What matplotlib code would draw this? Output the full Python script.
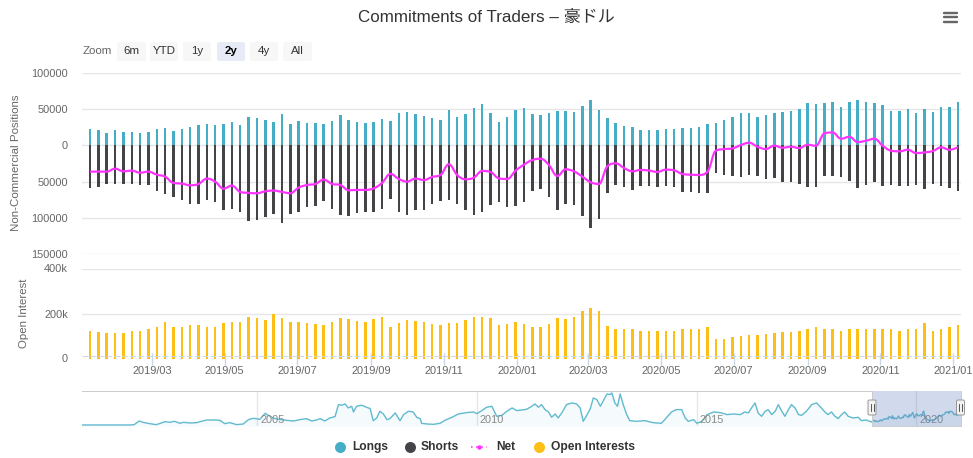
import numpy as np
import pandas as pd
import matplotlib
matplotlib.use("Agg")
import matplotlib.pyplot as plt
import matplotlib.dates as mdates
from matplotlib.path import Path
from matplotlib.patches import PathPatch, FancyBboxPatch, Rectangle
from matplotlib.lines import Line2D

# ---------------- data ----------------
longs = [22000, 20700, 16500, 20700, 17900, 17900, 16500, 17900, 22000, 24300, 19300, 22000, 25700, 27500, 28900,
         27500, 28900, 31700, 27500, 38600, 37200, 35300, 31700, 42700, 28900, 34000, 30300, 30300, 28900, 34000,
         41300, 35300, 31700, 30300, 33000,
         36300, 34000, 45400, 46800, 42700, 40800, 37200, 35300, 48700, 39900, 42700, 51000, 56500, 45400, 33000,
         38600, 48700, 51000, 42700, 41300, 44100, 47300, 47300, 46300, 55100, 63300, 48700, 37200, 30300, 26200,
         25200, 21600, 20700, 20700, 23000,
         23000, 24300, 24300, 25200, 28900, 30300, 35300, 38600, 44100, 44100, 39900, 41300, 44100, 46800, 48200,
         50000, 58300, 56900, 59200, 60600, 52800, 60600, 62900, 60600, 59200, 55500, 47800, 47800, 50000, 44500,
         50000, 45900, 52800, 52800, 59700]
shorts = [58300, 56900, 52800, 52800, 53700, 52800, 54200, 54200, 62400, 67500, 71200, 74800, 80800, 80800, 74800,
          77600, 88600, 87200, 91800, 104200, 103300, 98700, 94100, 107000, 95000, 92300, 85000, 83600, 76200, 87200,
          96000, 97300, 93200, 91800, 92300,
          88100, 73400, 91800, 96800, 88600, 88600, 80800, 76200, 74800, 80800, 89500, 95500, 91800, 82200, 78500,
          85000, 83600, 77600, 62900, 59700, 71200, 89500, 80300, 82200, 98200, 114300, 101900, 66100, 55100, 57400,
          61000, 55500, 55500, 57400, 56500,
          57400, 63800, 64700, 66100, 65200, 37600, 40400, 42700, 43600, 40400, 41800, 46300, 44500, 50000, 50000,
          53700, 57400, 57400, 42700, 42700, 43600, 48700, 58300, 54200, 50000, 56000, 55100, 56000, 56000, 55100,
          59700, 53700, 55500, 58800, 62400]
open_interest = [124000, 120000, 115000, 115000, 115000, 124000, 124000, 129000, 138000, 161000,
                 142000, 138000, 147000, 147000, 138000, 142000, 156000, 161000, 161000, 183000,
                 179000, 170000, 197000, 179000, 161000, 161000, 156000, 152000, 148000, 161000,
                 179000, 174000, 165000, 161000, 174000, 183000, 138000, 156000, 170000, 165000,
                 161000, 152000, 148000, 156000, 156000, 170000, 183000, 183000, 179000, 147000,
                 152000, 161000, 152000,
                 142000, 138000, 152000, 179000, 174000, 186000, 211000, 224000, 211000, 145000,
                 133000, 129000, 129000, 124000, 124000, 124000, 124000, 124000, 129000, 133000,
                 133000, 138000, 88000, 88000, 97000, 102000, 106000, 106000, 108000, 115000,
                 120000, 120000, 124000, 133000, 142000, 129000, 129000, 124000, 129000, 133000,
                 133000, 129000, 133000, 129000, 124000, 129000, 129000, 156000, 124000, 133000,
                 138000, 147000]
first_date = "2019-01-08"

# navigator history of longs (thousands) before 2019, by decimal year
nav_years = [2001.00, 2002.10, 2002.20, 2002.31, 2002.40, 2002.55, 2002.70, 2002.82, 2002.90, 2003.01, 2003.12,
             2003.24, 2003.32, 2003.47, 2003.62, 2003.73, 2003.85, 2004.00, 2004.15, 2004.26, 2004.38, 2004.53,
             2004.68, 2004.80, 2004.91, 2005.06, 2005.18, 2005.25, 2005.36, 2005.52, 2005.67, 2005.82, 2005.97,
             2006.12, 2006.24, 2006.35, 2006.43, 2006.54, 2006.65, 2006.77, 2006.85, 2006.92, 2007.00, 2007.07,
             2007.15, 2007.19, 2007.26, 2007.38, 2007.49, 2007.57, 2007.64, 2007.72, 2007.79, 2007.87, 2007.95,
             2008.02, 2008.14, 2008.25, 2008.33, 2008.44, 2008.55, 2008.63, 2008.71, 2008.74, 2008.86, 2009.01,
             2009.16, 2009.27, 2009.43, 2009.58, 2009.77, 2009.92, 2010.00, 2010.11, 2010.22, 2010.34, 2010.45,
             2010.57, 2010.68, 2010.80, 2010.91, 2011.02, 2011.13, 2011.25, 2011.32, 2011.40, 2011.47, 2011.55,
             2011.63, 2011.70, 2011.78, 2011.85, 2011.93, 2012.04, 2012.16, 2012.27, 2012.35, 2012.42, 2012.50,
             2012.58, 2012.65, 2012.73, 2012.81, 2012.88, 2012.96, 2013.03, 2013.07, 2013.14, 2013.20, 2013.26,
             2013.33, 2013.41, 2013.48, 2013.63, 2013.82, 2014.01, 2014.20, 2014.32, 2014.43, 2014.54, 2014.66,
             2014.74, 2014.81, 2014.93, 2015.01, 2015.12, 2015.24, 2015.39, 2015.54, 2015.69, 2015.84, 2015.99,
             2016.10, 2016.18, 2016.25, 2016.33, 2016.40, 2016.48, 2016.56, 2016.63, 2016.71, 2016.79, 2016.86,
             2016.94, 2017.01, 2017.09, 2017.16, 2017.24, 2017.32, 2017.39, 2017.50, 2017.62, 2017.73, 2017.84,
             2017.92, 2017.99, 2018.07, 2018.15, 2018.22, 2018.30, 2018.37, 2018.45, 2018.56, 2018.68, 2018.75,
             2018.86, 2018.98]
nav_longs_k = [1.5, 1.5, 3.0, 19.2, 13.3, 7.4, 3.0, 10.4, 16.3, 13.3, 17.8,
               8.9, 13.3, 10.4, 11.8, 17.8, 23.7, 23.7, 22.2, 7.4, 11.8, 3.0,
               5.9, 25.2, 31.1, 26.6, 53.3, 44.4, 32.6, 25.2, 22.2, 19.2, 25.2,
               29.6, 19.2, 23.7, 29.6, 19.2, 32.6, 38.5, 91.8, 88.8, 94.7, 77.0,
               84.4, 59.2, 84.4, 88.8, 79.9, 74.0, 20.7, 32.6, 62.2, 50.3, 25.2,
               29.6, 54.8, 20.7, 47.4, 62.2, 59.2, 35.5, 29.6, 8.9, 5.9, 4.4,
               8.9, 22.2, 35.5, 50.3, 56.2, 59.2, 51.8, 65.1, 79.9, 84.4, 40.0,
               44.4, 62.2, 77.0, 65.1, 68.1, 71.0, 84.4, 94.7, 79.9, 91.8, 69.6,
               59.2, 35.5, 50.3, 32.6, 54.8, 91.8, 99.2, 94.7, 77.0, 17.8, 44.4,
               74.0, 121.4, 114.0, 84.4, 109.5, 139.1, 136.2, 143.6, 99.2, 84.4, 139.1,
               91.8, 47.4, 20.7, 17.8, 20.7, 11.8, 8.9, 35.5, 59.2, 69.6, 69.6,
               32.6, 17.8, 25.2, 8.9, 17.8, 47.4, 59.2, 56.2, 47.4, 50.3, 47.4,
               59.2, 54.8, 77.0, 99.2, 54.8, 40.0, 62.2, 69.6, 47.4, 62.2, 91.8,
               62.2, 40.0, 69.6, 91.8, 77.0, 47.4, 44.4, 62.2, 91.8, 99.2, 77.0,
               59.2, 47.4, 59.2, 40.0, 29.6, 47.4, 59.2, 40.0, 32.6, 35.5, 20.7,
               23.7, 14.8]

top_ticks = [-150000, -100000, -50000, 0, 50000, 100000]
top_labels = ["150000", "100000", "50000", "0", "50000", "100000"]
oi_ticks = [0, 200000, 400000]
oi_labels = ["0", "200k", "400k"]
nav_tick_years = [2005, 2010, 2015, 2020]
zoom_buttons = ["6m", "YTD", "1y", "2y", "4y", "All"]
legend_names = ["Longs", "Shorts", "Net", "Open Interests"]

# ---------------- style ----------------
C_LONG = "#45aec6"
C_SHORT = "#434348"
C_NET = "#ff33ff"
C_OI = "#fdbf16"
C_GRID = "#e6e6e6"
C_LBL = "#666666"
FONT = ["Liberation Sans", "DejaVu Sans", "Noto Sans CJK JP"]
plt.rcParams["font.family"] = FONT

W, H, DPI = 973, 458, 100
PT = 0.72  # px -> pt


def fr(x0, y0, x1, y1):
    return [x0 / W, 1 - y1 / H, (x1 - x0) / W, (y1 - y0) / H]


def hc_spline_path(x, y, smoothing=1.5):
    n = len(x)
    denom = smoothing + 1
    lcx = np.array(x, float); lcy = np.array(y, float)
    rcx = np.array(x, float); rcy = np.array(y, float)
    for i in range(1, n - 1):
        px, py = x[i], y[i]
        lx, ly = x[i - 1], y[i - 1]
        nx, ny = x[i + 1], y[i + 1]
        a = (smoothing * px + lx) / denom
        b = (smoothing * py + ly) / denom
        c = (smoothing * px + nx) / denom
        d = (smoothing * py + ny) / denom
        corr = 0.0
        if c != a:
            corr = (d - b) * (c - px) / (c - a) + py - d
        b += corr
        d += corr
        if b > ly and b > py:
            b = max(ly, py); d = 2 * py - b
        elif b < ly and b < py:
            b = min(ly, py); d = 2 * py - b
        if d > ny and d > py:
            d = max(ny, py); b = 2 * py - d
        elif d < ny and d < py:
            d = min(ny, py); b = 2 * py - d
        lcx[i], lcy[i], rcx[i], rcy[i] = a, b, c, d
    verts = [(x[0], y[0])]
    codes = [Path.MOVETO]
    for i in range(1, n):
        verts += [(rcx[i - 1], rcy[i - 1]), (lcx[i], lcy[i]), (x[i], y[i])]
        codes += [Path.CURVE4] * 3
    return Path(verts, codes)


dates = pd.date_range(first_date, periods=len(longs), freq="7D")
xd = mdates.date2num(dates)
longs_a = np.array(longs, float)
shorts_a = np.array(shorts, float)
net = longs_a - shorts_a
oi = np.array(open_interest, float)

x_lo = mdates.date2num(pd.Timestamp("2019-01-01 06:00"))
x_hi = mdates.date2num(pd.Timestamp("2021-01-07 16:00"))
bw = 2.1  # days

fig = plt.figure(figsize=(W / DPI, H / DPI), dpi=DPI)
fig.patch.set_facecolor("white")

# ---- top pane ----
ax1 = fig.add_axes(fr(82, 73, 961, 254))
ax1.set_xlim(x_lo, x_hi)
ax1.set_ylim(-150000, 100000)
ax1.bar(xd, longs_a, width=bw, color=C_LONG, zorder=3, linewidth=0)
ax1.bar(xd, -shorts_a, width=bw, color=C_SHORT, zorder=3, linewidth=0)
ax1.add_patch(PathPatch(hc_spline_path(xd, -(-net)), facecolor="none", edgecolor=C_NET, lw=1.6, zorder=4))
ax1.set_yticks(top_ticks)
ax1.set_yticklabels(top_labels)
ax1.set_xticks([])
ax1.grid(axis="y", color=C_GRID, lw=1)
ax1.set_axisbelow(True)
for s in ax1.spines.values():
    s.set_visible(False)
ax1.tick_params(axis="y", length=0, pad=14 * PT, labelsize=11 * PT, labelcolor=C_LBL)
ax1.patch.set_alpha(0)

# ---- bottom pane ----
ax2 = fig.add_axes(fr(82, 268.5, 961, 358.5))
ax2.set_xlim(x_lo, x_hi)
ax2.set_ylim(0, 400000)
ax2.bar(xd, oi, width=bw, color=C_OI, zorder=3, linewidth=0)
ax2.set_yticks(oi_ticks)
ax2.set_yticklabels(oi_labels)
ax2.grid(axis="y", color=C_GRID, lw=1)
ax2.set_axisbelow(True)
for s in ax2.spines.values():
    s.set_visible(False)
ax2.tick_params(axis="y", length=0, pad=14 * PT, labelsize=11 * PT, labelcolor=C_LBL)
ax2.xaxis.set_major_locator(mdates.MonthLocator(bymonth=[1, 3, 5, 7, 9, 11]))
ax2.xaxis.set_major_formatter(mdates.DateFormatter("%Y/%m"))
ax2.tick_params(axis="x", direction="inout", length=8, width=1, color="#ccd6eb",
                pad=1.5, labelsize=11 * PT, labelcolor=C_LBL)
ax2.patch.set_alpha(0)

# ---- navigator ----
axn = fig.add_axes(fr(82, 391, 961, 426))
nav_hist_dates = pd.to_datetime("2001-01-01") + pd.to_timedelta((np.array(nav_years) - 2001) * 365.25, unit="D")
nav_x = np.concatenate([mdates.date2num(nav_hist_dates), xd])
nav_y = np.concatenate([np.array(nav_longs_k) * 1000, longs_a])
n_lo = mdates.date2num(pd.Timestamp("2001-01-05"))
axn.set_xlim(n_lo, x_hi)
axn.set_ylim(-3000, 152000)
axn.fill_between(nav_x, -3000, nav_y, color=C_LONG, alpha=0.05, lw=0)
axn.plot(nav_x, nav_y, color=C_LONG, lw=1, alpha=0.85)
for yr in nav_tick_years:
    xv = mdates.date2num(pd.Timestamp(f"{yr}-01-01"))
    axn.axvline(xv, color=C_GRID, lw=1, zorder=0)
    axn.annotate(str(yr), xy=(xv, 0.17), xycoords=("data", "axes fraction"), xytext=(3 * PT, 0),
                 textcoords="offset points", ha="left", va="center", fontsize=11 * PT, color="#888888")
axn.add_patch(Rectangle((x_lo, 0), x_hi - x_lo, 1, transform=axn.get_xaxis_transform(),
                        facecolor=(0.4, 0.52, 0.76), alpha=0.3, lw=0, zorder=5))
axn.set_xticks([]); axn.set_yticks([])
for s in axn.spines.values():
    s.set_visible(False)
axn.patch.set_alpha(0)

# ---- overlay in pixel coordinates ----
ov = fig.add_axes([0, 0, 1, 1])
ov.set_xlim(0, W); ov.set_ylim(H, 0)
ov.axis("off")
ov.patch.set_alpha(0)

ov.text(486, 17, "Commitments of Traders – 豪ドル", ha="center", va="center",
        fontsize=17 * PT, color="#333333")
for yy in (12.5, 17, 21.5):
    ov.add_line(Line2D([944, 957], [yy, yy], color="#666666", lw=2.4 * PT, solid_capstyle="round"))

ov.text(83, 51.5, "Zoom", ha="left", va="center", fontsize=11.5 * PT, color="#666666")
btn_x = [(117, 146), (150, 178), (183, 211), (217, 245), (250, 278), (283, 312)]
for (bx0, bx1), lab in zip(btn_x, zoom_buttons):
    sel = lab == "2y"
    ov.add_patch(FancyBboxPatch((bx0, 42), bx1 - bx0, 19, boxstyle="round,pad=0,rounding_size=2",
                                facecolor="#e6ebf5" if sel else "#f7f7f7", edgecolor="none"))
    ov.text((bx0 + bx1) / 2, 51.5, lab, ha="center", va="center", fontsize=11.5 * PT,
            color="#000000" if sel else "#333333", fontweight="bold" if sel else "normal")

ov.text(16, 163, "Non-Commercial Positions", rotation=90, ha="center", va="center",
        fontsize=11.5 * PT, color=C_LBL)
ov.text(24, 313, "Open Interest", rotation=90, ha="center", va="center",
        fontsize=11.5 * PT, color=C_LBL)

# dashed line above bottom axis
ov.add_line(Line2D([82, 961], [355.5, 355.5], color="#ccd6eb", lw=1 * PT, linestyle=(0, (6, 2))))

# navigator outline and handles
mask_l, mask_r = 872, 961
ov.add_line(Line2D([82, mask_l, mask_l, mask_r, mask_r], [391, 391, 426, 426, 391],
                   color="#cccccc", lw=1 * PT))
for hx in (mask_l, mask_r - 0.5):
    ov.add_patch(FancyBboxPatch((hx - 4, 400), 8, 15, boxstyle="round,pad=0,rounding_size=1.5",
                                facecolor="#f2f2f2", edgecolor="#999999", lw=1 * PT, zorder=6))
    for dx in (-1.5, 1.5):
        ov.add_line(Line2D([hx + dx, hx + dx], [404, 411], color="#333333", lw=0.8 * PT, zorder=7))

# legend
leg_y = 447
ov.plot([340], [leg_y], marker="o", ms=11 * PT, color=C_LONG, mec="none")
ov.text(352, leg_y, legend_names[0], ha="left", va="center", fontsize=12 * PT, fontweight="bold", color="#333333")
ov.plot([410], [leg_y], marker="o", ms=11 * PT, color=C_SHORT, mec="none")
ov.text(421, leg_y, legend_names[1], ha="left", va="center", fontsize=12 * PT, fontweight="bold", color="#333333")
ov.add_line(Line2D([471, 487], [leg_y, leg_y], color=C_NET, lw=1.6 * PT, linestyle=(0, (1, 2.2))))
ov.plot([479], [leg_y], marker="o", ms=4.5 * PT, color=C_NET, mec="none")
ov.text(496, leg_y, legend_names[2], ha="left", va="center", fontsize=12 * PT, fontweight="bold", color="#333333")
ov.plot([539], [leg_y], marker="o", ms=11 * PT, color=C_OI, mec="none")
ov.text(551, leg_y, legend_names[3], ha="left", va="center", fontsize=12 * PT, fontweight="bold", color="#333333")

fig.savefig("out.png", dpi=DPI, facecolor="white")
